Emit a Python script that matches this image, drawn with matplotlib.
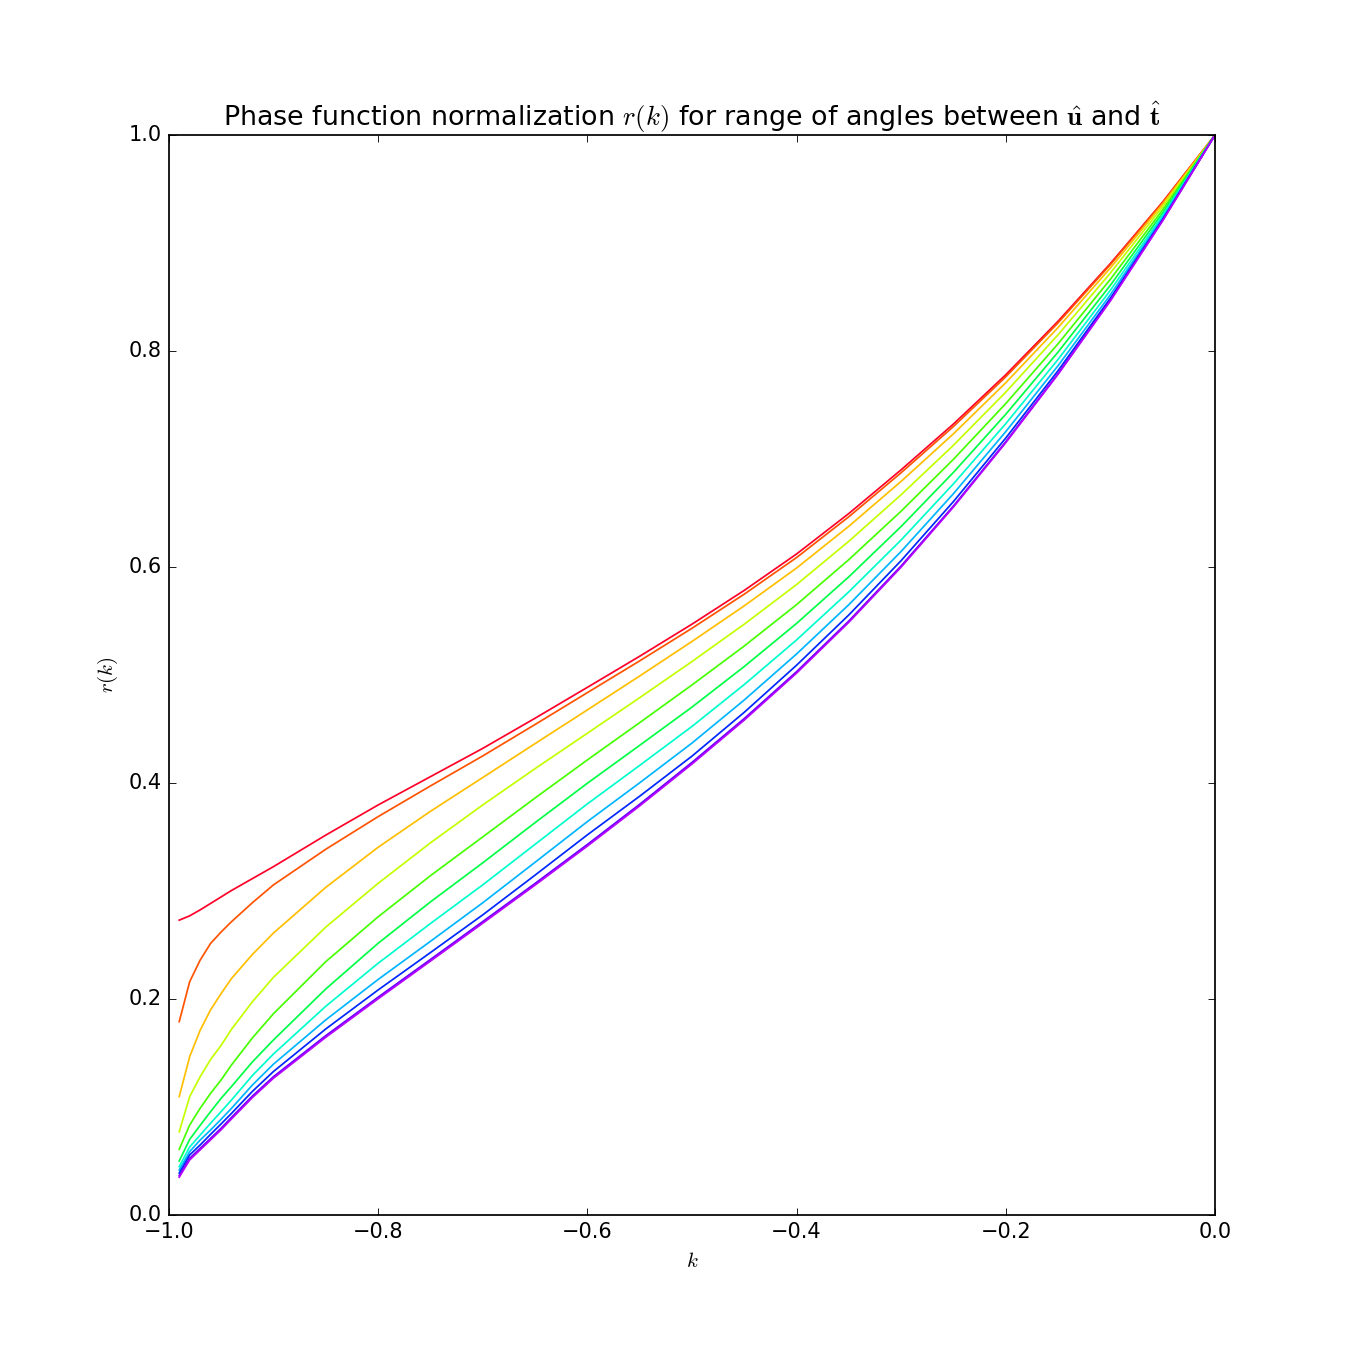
import numpy as np
import matplotlib
matplotlib.use("Agg")
import matplotlib.pyplot as plt

plt.style.use("classic")

k = [-0.99, -0.98, -0.97, -0.96, -0.95, -0.94, -0.92, -0.9, -0.85, -0.8,
     -0.75, -0.7, -0.65, -0.6, -0.55, -0.5, -0.45, -0.4, -0.35, -0.3,
     -0.25, -0.2, -0.15, -0.1, -0.05, 0.0]

r_red = [0.273, 0.277, 0.2825, 0.2885, 0.2945, 0.3005, 0.3115, 0.3225, 0.3517, 0.3796,
         0.4058, 0.432, 0.4599, 0.4885, 0.5173, 0.547, 0.5783, 0.612, 0.6495, 0.690,
         0.7324, 0.778, 0.8276, 0.881, 0.938, 1.0]
r_orange_red = [0.179, 0.216, 0.236, 0.2515, 0.262, 0.2716, 0.2892, 0.3056, 0.3386, 0.3688,
                0.3972, 0.425, 0.4541, 0.4836, 0.5130, 0.5432, 0.5748, 0.6087, 0.6465, 0.6873,
                0.7301, 0.7761, 0.8261, 0.880, 0.9375, 1.0]
r_orange = [0.1096, 0.1466, 0.171, 0.19, 0.205, 0.219, 0.2413, 0.261, 0.3033, 0.3404,
            0.3737, 0.405, 0.4364, 0.4676, 0.499, 0.531, 0.564, 0.599, 0.6377, 0.6793,
            0.7233, 0.7706, 0.8217, 0.8769, 0.936, 1.0]
r_yellow_green = [0.077, 0.1096, 0.128, 0.144, 0.157, 0.172, 0.1975, 0.2200, 0.2665, 0.307,
                  0.3445, 0.3796, 0.4132, 0.446, 0.4789, 0.5124, 0.547, 0.5837, 0.6238, 0.6669,
                  0.7127, 0.7619, 0.8150, 0.8722, 0.9336, 1.0]
r_green = [0.0608, 0.0833, 0.0988, 0.1127, 0.125, 0.139, 0.1640, 0.1863, 0.2345, 0.276,
           0.3141, 0.350, 0.386, 0.4213, 0.4558, 0.4907, 0.5268, 0.5651, 0.6068, 0.6517,
           0.6997, 0.7513, 0.8067, 0.8664, 0.9307, 1.0]
r_spring = [0.050, 0.070, 0.083, 0.0957, 0.108, 0.119, 0.1418, 0.162, 0.2092, 0.2515,
            0.2898, 0.326, 0.3632, 0.3997, 0.4348, 0.4702, 0.5078, 0.5477, 0.5909, 0.6375,
            0.6876, 0.7414, 0.799, 0.8609, 0.928, 1.0]
r_cyan = [0.0448, 0.063, 0.074, 0.085, 0.0957, 0.1065, 0.1292, 0.1490, 0.1932, 0.233,
          0.2698, 0.3056, 0.3431, 0.3806, 0.4162, 0.4523, 0.4911, 0.5324, 0.577, 0.625,
          0.677, 0.7327, 0.7922, 0.8562, 0.9256, 1.0]
r_light_blue = [0.0417, 0.0587, 0.0694, 0.0787, 0.0886, 0.0988, 0.1204, 0.1396, 0.1806, 0.218,
                0.2533, 0.289, 0.3265, 0.3642, 0.4001, 0.4369, 0.4768, 0.5194, 0.5651, 0.6144,
                0.6679, 0.7253, 0.7864, 0.8521, 0.9236, 1.0]
r_blue = [0.0388, 0.0556, 0.0648, 0.0747, 0.0843, 0.0941, 0.1145, 0.1328, 0.1722, 0.2083,
          0.2429, 0.2778, 0.3146, 0.3519, 0.3877, 0.4248, 0.4654, 0.509, 0.5556, 0.6059,
          0.6606, 0.7194, 0.7818, 0.8489, 0.9219, 1.0]
r_purple = [0.0364, 0.0525, 0.0617, 0.071, 0.0803, 0.0904, 0.1102, 0.1280, 0.1660, 0.2016,
            0.2365, 0.2716, 0.3069, 0.343, 0.3802, 0.419, 0.4596, 0.503, 0.550, 0.601,
            0.6565, 0.716, 0.7791, 0.847, 0.921, 1.0]
r_violet = [0.035, 0.051, 0.0603, 0.0696, 0.0789, 0.089, 0.1088, 0.1266, 0.1645, 0.2001,
            0.235, 0.2701, 0.3054, 0.3415, 0.3787, 0.4175, 0.4582, 0.5017, 0.5488, 0.5999,
            0.6555, 0.7151, 0.7784, 0.8464, 0.9206, 1.0]

series = [r_red, r_orange_red, r_orange, r_yellow_green, r_green, r_spring,
          r_cyan, r_light_blue, r_blue, r_purple, r_violet]
cmap_pos = [0.0, 0.09, 0.17, 0.26, 0.35, 0.45, 0.55, 0.64, 0.74, 0.84, 0.90]

fig = plt.figure(figsize=(10.8, 10.8), dpi=125, facecolor="white")
ax = fig.add_subplot(111)
for vals, p in zip(series, cmap_pos):
    ax.plot(k, vals, color=plt.cm.gist_rainbow(p), lw=1.0)

ax.set_xlim(-1.0, 0.0)
ax.set_ylim(0.0, 1.0)
ax.set_xticks([-1.0, -0.8, -0.6, -0.4, -0.2, 0.0])
ax.set_yticks([0.0, 0.2, 0.4, 0.6, 0.8, 1.0])
ax.set_xlabel(r"$k$")
ax.set_ylabel(r"$r(k)$")
ax.set_title(r"Phase function normalization $r(k)$ for range of angles between "
             r"$\mathbf{\hat{u}}$ and $\mathbf{\hat{t}}$", fontsize=15.5)
fig.savefig("out.png", dpi=125, facecolor="white")
